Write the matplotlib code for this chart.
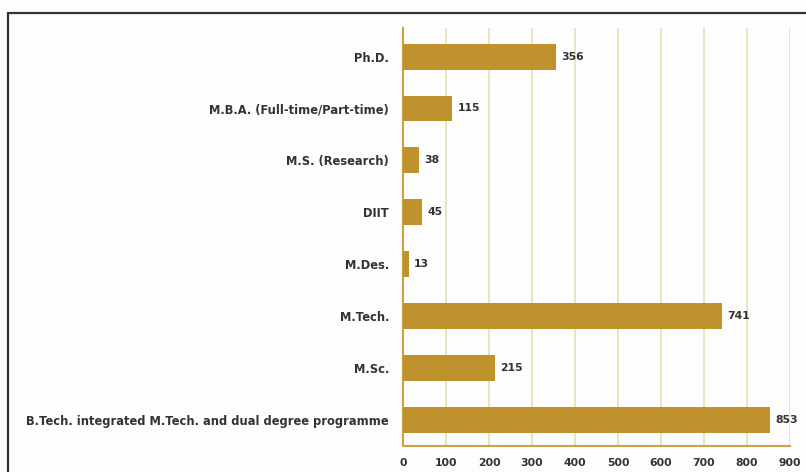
import matplotlib.pyplot as plt
from matplotlib.patches import Rectangle

# Programme-wise student counts
programmes = [
    'B.Tech. integrated M.Tech. and dual degree programme',
    'M.Sc.',
    'M.Tech.',
    'M.Des.',
    'DIIT',
    'M.S. (Research)',
    'M.B.A. (Full-time/Part-time)',
    'Ph.D.',
]
students = [853, 215, 741, 13, 45, 38, 115, 356]
x_ticks = [0, 100, 200, 300, 400, 500, 600, 700, 800, 900]

bar_color = '#c0922e'
axis_color = '#c9a445'
grid_color = '#e8dfb0'
text_color = '#333333'

plt.rcParams['font.family'] = ['DejaVu Sans']

fig = plt.figure(figsize=(8.06, 4.72), dpi=100)
fig.patch.set_facecolor('#fdfdfd')

# Dark frame around the figure
fig.add_artist(Rectangle((8 / 806, -0.1), 1.2, 0.1 + 1 - 13 / 472,
                         transform=fig.transFigure, fill=False,
                         edgecolor='#333333', linewidth=1.6))

ax = fig.add_axes([403 / 806, 1 - 446 / 472, (790 - 403) / 806, (446 - 28) / 472])
ax.set_facecolor('#fdfdfd')

y = range(len(programmes))
ax.barh(y, students, height=0.5, color=bar_color, zorder=3)

for yi, v in zip(y, students):
    ax.text(v + 12, yi, str(v), va='center', ha='left', fontsize=7.8,
            fontweight='bold', color=text_color)

ax.set_xlim(0, 900)
ax.set_ylim(-0.5, 7.55)
ax.set_xticks(x_ticks)
ax.set_xticklabels([str(t) for t in x_ticks], fontsize=7.8, fontweight='bold',
                   color=text_color)
ax.set_yticks(list(y))
ax.set_yticklabels(programmes, fontsize=8.3, fontweight='bold', color=text_color)
ax.tick_params(axis='both', length=0)
ax.tick_params(axis='x', pad=9)
ax.tick_params(axis='y', pad=10)

ax.grid(axis='x', color=grid_color, linewidth=1.2, zorder=0)
for side in ['top', 'right']:
    ax.spines[side].set_visible(False)
for side in ['left', 'bottom']:
    ax.spines[side].set_color(axis_color)
    ax.spines[side].set_linewidth(1.5)

fig.savefig('out.png', dpi=100, facecolor=fig.get_facecolor())
